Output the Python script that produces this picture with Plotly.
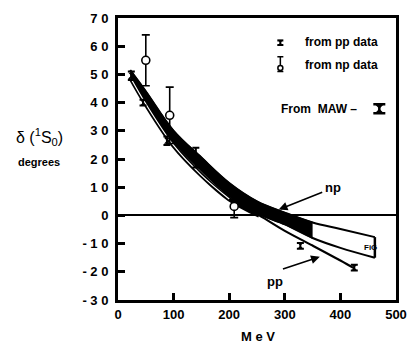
import plotly.graph_objects as go

# ---- data ----
# np band (upper / lower boundary), MeV vs degrees
band_E = [22, 50, 100, 150, 200, 250, 300, 350, 400, 462]
band_hi = [51.5, 44, 30, 20.5, 11.5, 5, 1, -2.5, -4.8, -7.7]
band_lo = [49, 41, 26.3, 16, 7, 0.8, -3.2, -8, -11.5, -15]
band_fill_n = 8  # filled (black) part of the band: first 8 points

# pp curve
pp_E = [22, 50, 100, 150, 200, 254, 300, 350, 400, 425]
pp_d = [49, 39.5, 24.8, 14.3, 5.8, 0, -5.5, -10.7, -16, -18.8]
pp_double_n = 6

# data points from pp data
ppd_E = [24, 45, 88, 140, 328, 425]
ppd_d = [49.5, 40, 26.5, 20.5, -10.8, -18.5]
ppd_err = [1.5, 1, 1.5, 3.5, 1, 1]

# data points from np data
npd_E = [50, 93, 209]
npd_d = [55, 35.5, 3.2]
npd_err = [9, 10, 4]

y_ticks = [-30, -20, -10, 0, 10, 20, 30, 40, 50, 60, 70]
y_ticktext = ["- 3 0", "- 2 0", "- 1 0", "0", "1 0", "2 0", "3 0", "4 0", "5 0", "6 0", "7 0"]
x_ticks = [0, 100, 200, 300, 400, 500]
x_ticktext = ["0", "100", "200", "300", "400", "500"]

FONT = "Liberation Sans"
K = "black"

fig = go.Figure()

# filled black part of np band
fig.add_trace(go.Scatter(x=band_E[:band_fill_n], y=band_hi[:band_fill_n], mode="lines",
                         line=dict(color=K, width=1.5, shape="spline"), showlegend=False))
fig.add_trace(go.Scatter(x=band_E[:band_fill_n], y=band_lo[:band_fill_n], mode="lines",
                         line=dict(color=K, width=1.5, shape="spline"), fill="tonexty",
                         fillcolor=K, showlegend=False))
# outline of the whole band
fig.add_trace(go.Scatter(x=band_E, y=band_hi, mode="lines",
                         line=dict(color=K, width=2, shape="spline"), showlegend=False))
fig.add_trace(go.Scatter(x=band_E, y=band_lo, mode="lines",
                         line=dict(color=K, width=2, shape="spline"), showlegend=False))
fig.add_trace(go.Scatter(x=[band_E[-1], band_E[-1]], y=[band_hi[-1], band_lo[-1]], mode="lines",
                         line=dict(color=K, width=2.5), showlegend=False))

# pp curve (double line at low energies)
fig.add_trace(go.Scatter(x=pp_E, y=pp_d, mode="lines",
                         line=dict(color=K, width=2.2, shape="spline"), showlegend=False))
fig.add_trace(go.Scatter(x=pp_E[:pp_double_n], y=pp_d[:pp_double_n], mode="lines",
                         line=dict(color=K, width=4.6, shape="spline"), showlegend=False))
fig.add_trace(go.Scatter(x=pp_E[:pp_double_n - 1], y=pp_d[:pp_double_n - 1], mode="lines",
                         line=dict(color="white", width=1.2, shape="spline"), showlegend=False))

# pp data points
fig.add_trace(go.Scatter(x=ppd_E, y=ppd_d, mode="markers",
                         marker=dict(symbol="hourglass", size=6, color=K),
                         error_y=dict(type="data", array=ppd_err, color=K, thickness=2, width=3.5),
                         showlegend=False))
# np data points
fig.add_trace(go.Scatter(x=npd_E, y=npd_d, mode="markers",
                         marker=dict(symbol="circle", size=8, color="white", line=dict(color=K, width=1.6)),
                         error_y=dict(type="data", array=npd_err, color=K, thickness=1.6, width=4),
                         showlegend=False))

# legend symbols (drawn by hand)
fig.add_trace(go.Scatter(x=[292], y=[61.2], mode="markers",
                         marker=dict(symbol="hourglass", size=6, color=K),
                         error_y=dict(type="data", array=[0.8], color=K, thickness=2, width=3),
                         showlegend=False))
fig.add_trace(go.Scatter(x=[292], y=[52.3], mode="markers",
                         marker=dict(symbol="circle", size=5, color="white", line=dict(color=K, width=1.5)),
                         error_y=dict(type="data", array=[4], arrayminus=[1.3], color=K, thickness=1.5, width=3),
                         showlegend=False))
fig.add_trace(go.Scatter(x=[470], y=[37.8], mode="markers",
                         marker=dict(symbol="hourglass", size=10, color=K),
                         error_y=dict(type="data", array=[1.6], color=K, thickness=2.5, width=6),
                         showlegend=False))

ann = []
tf = dict(family=FONT, size=12, color=K)
ann.append(dict(x=332, y=61.5, xref="x", yref="y", text="<b>from pp data</b>", showarrow=False,
                xanchor="left", yanchor="middle", font=tf))
ann.append(dict(x=332, y=53.5, xref="x", yref="y", text="<b>from np data</b>", showarrow=False,
                xanchor="left", yanchor="middle", font=tf))
ann.append(dict(x=289, y=37.8, xref="x", yref="y", text="<b>From  MAW –</b>", showarrow=False,
                xanchor="left", yanchor="middle", font=tf))
# np / pp labels with arrows
ann.append(dict(x=387, y=9.8, xref="x", yref="y", text="<b>np</b>", showarrow=False,
                xanchor="center", yanchor="middle", font=dict(family=FONT, size=13, color=K)))
ann.append(dict(x=289, y=2.1, ax=370, ay=8.4, xref="x", yref="y", axref="x", ayref="y",
                text="", showarrow=True, arrowhead=2, arrowsize=1.1, arrowwidth=1.6, arrowcolor=K))
ann.append(dict(x=282, y=-23.3, xref="x", yref="y", text="<b>pp</b>", showarrow=False,
                xanchor="center", yanchor="middle", font=dict(family=FONT, size=13, color=K)))
ann.append(dict(x=363, y=-14.7, ax=294, ay=-19.2, xref="x", yref="y", axref="x", ayref="y",
                text="", showarrow=True, arrowhead=2, arrowsize=1.1, arrowwidth=1.6, arrowcolor=K))
ann.append(dict(x=454, y=-11.3, xref="x", yref="y", text="<b>FiG</b>", showarrow=False,
                xanchor="center", yanchor="middle", font=dict(family=FONT, size=8, color=K)))
# axis titles
ann.append(dict(x=-0.284, y=0.579, xref="paper", yref="paper", xanchor="center", yanchor="middle",
                text="δ (<sup>1</sup>S<sub>0</sub>)", showarrow=False,
                font=dict(family=FONT, size=16, color=K)))
ann.append(dict(x=-0.284, y=0.49, xref="paper", yref="paper", xanchor="center", yanchor="middle",
                text="<b>degrees</b>", showarrow=False,
                font=dict(family=FONT, size=11, color=K)))
ann.append(dict(x=252, y=-0.13, xref="x", yref="paper", xanchor="center", yanchor="middle",
                text="<b>M e V</b>", showarrow=False,
                font=dict(family=FONT, size=13, color=K)))

fig.update_layout(
    width=418, height=352,
    margin=dict(l=118, r=11, t=15, b=52),
    paper_bgcolor="white", plot_bgcolor="white",
    annotations=ann,
    showlegend=False,
    xaxis=dict(range=[0, 500], tickvals=x_ticks, ticktext=x_ticktext,
               showgrid=False, zeroline=False, showline=True, mirror=True,
               linecolor=K, linewidth=3, ticks="inside", ticklen=7, tickwidth=3, tickcolor=K,
               tickfont=dict(family=FONT, size=13, color=K, weight="bold")),
    yaxis=dict(range=[-30, 70], tickvals=y_ticks, ticktext=y_ticktext,
               showgrid=False, zeroline=True, zerolinecolor=K, zerolinewidth=1.5,
               showline=True, mirror=True,
               linecolor=K, linewidth=3, ticks="inside", ticklen=7, tickwidth=3, tickcolor=K,
               tickfont=dict(family=FONT, size=13, color=K, weight="bold"), ticklabelstandoff=4),
)

fig.write_html("out.html")
